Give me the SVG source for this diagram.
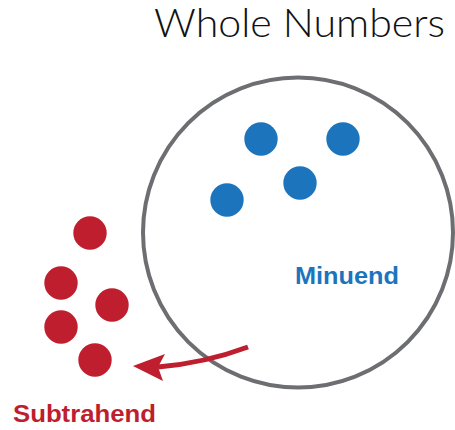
<svg xmlns="http://www.w3.org/2000/svg" width="455" height="430" viewBox="0 0 455 430">
  <style>
    .blue { fill: #1c75bc; }
    .red { fill: #be1e2d; }
    .title { font-family: "Lato", "Liberation Sans", sans-serif; font-weight: 300; font-size: 39px; fill: #111; }
    .label { font-family: "Liberation Sans", "DejaVu Sans", sans-serif; font-weight: bold; font-size: 23px; }
  </style>
  <rect width="455" height="430" fill="#fff"/>
  <text class="title" x="154" y="37" textLength="291" lengthAdjust="spacingAndGlyphs">Whole Numbers</text>
  <g id="minuend-set">
    <circle cx="298" cy="232.5" r="155" fill="none" stroke="#6d6e71" stroke-width="4"/>
    <circle class="blue" cx="261" cy="139" r="16.7"/>
    <circle class="blue" cx="343" cy="139" r="16.7"/>
    <circle class="blue" cx="300" cy="183" r="16.7"/>
    <circle class="blue" cx="227" cy="200" r="16.7"/>
    <text class="label blue" x="295" y="284" textLength="104" lengthAdjust="spacingAndGlyphs">Minuend</text>
  </g>
  <g id="subtrahend-set">
    <circle class="red" cx="90" cy="233" r="16.7"/>
    <circle class="red" cx="61" cy="283" r="16.7"/>
    <circle class="red" cx="112" cy="305" r="16.7"/>
    <circle class="red" cx="61" cy="327" r="16.7"/>
    <circle class="red" cx="95" cy="360" r="16.7"/>
    <text class="label red" x="13" y="422" textLength="143" lengthAdjust="spacingAndGlyphs">Subtrahend</text>
  </g>
  <g id="connectors">
    <path d="M248,347 Q205,363 158,367" fill="none" stroke="#be1e2d" stroke-width="5"/>
    <polygon class="red" points="133,366 165,354 158,367 163,381"/>
  </g>
</svg>
